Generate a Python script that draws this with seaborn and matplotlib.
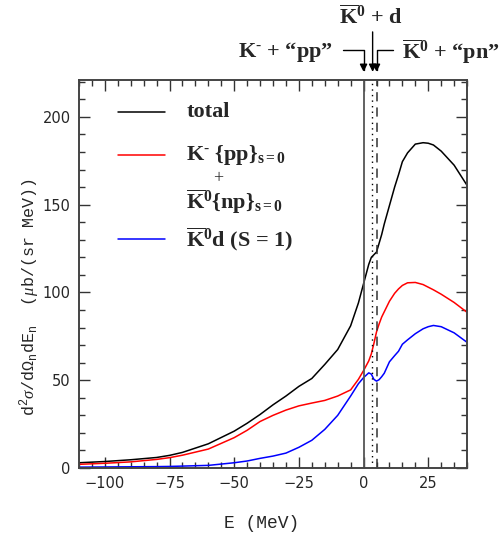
import matplotlib
matplotlib.use("Agg")
import matplotlib.pyplot as plt
from matplotlib.ticker import MultipleLocator
import seaborn as sns
import pandas as pd

# energies (MeV) and spectra
energy = [-110, -100, -90, -80, -75, -70, -60, -50, -45, -40, -35, -30, -25, -20, -15, -10, -5, -2,
          0, 2, 3, 4, 5, 6, 7, 8, 10, 12, 13.5, 15, 17, 20, 23, 25, 27, 30, 35, 40]
total = [3.0, 3.7, 4.7, 6.0, 7.2, 8.9, 13.8, 21, 25.5, 30.5, 36, 41, 46.5, 51, 59, 67.5, 81, 94,
         105, 116, 120, 121.5, 123, 128, 133, 139, 149.5, 160, 167, 174.5, 179.5, 184.5, 185.3, 185, 184, 180.5, 172.5, 161]
s0 = [2.1, 2.7, 3.5, 4.9, 5.9, 7.3, 10.8, 17.3, 21.5, 26.5, 30, 33, 35.4, 37, 38.5, 41, 44.5, 50.5,
      55.5, 61, 65, 71, 77.5, 82, 86, 89, 95, 99.5, 102, 104, 105.5, 105.7, 104.5, 103, 101.5, 99, 94.3, 88.7]
s1 = [0.5, 0.6, 0.7, 0.8, 0.9, 1.1, 1.5, 3.0, 4.0, 5.5, 6.8, 8.5, 11.8, 15.8, 22, 30, 41, 48,
      51.5, 54.2, 53.5, 50.5, 49.5, 50.3, 52, 54, 60.5, 64, 66.5, 70.5, 73, 76.5, 79.3, 80.5, 81.2, 80.5, 77, 71.6]

thr_pp = 0.0      # K- + "pp"
thr_d = 3.1       # K0bar + d
thr_pn = 5.3      # K0bar + "pn"

df = pd.DataFrame({"E": energy, "total": total, "s0": s0, "s1": s1})

sns.set_style("ticks")
plt.rcParams["font.family"] = ["DejaVu Sans"]
plt.rcParams["mathtext.fontset"] = "custom"
plt.rcParams["mathtext.rm"] = "Liberation Mono"
plt.rcParams["mathtext.it"] = "Liberation Serif:italic"
plt.rcParams["mathtext.bf"] = "Liberation Serif:bold"

fig = plt.figure(figsize=(5.04, 5.4), dpi=100)
ax = fig.add_axes([0.1567, 0.1333, 0.77, 0.7185])

sns.lineplot(data=df, x="E", y="total", color="black", lw=1.1, ax=ax)
sns.lineplot(data=df, x="E", y="s0", color="#ff0000", lw=1.1, ax=ax)
sns.lineplot(data=df, x="E", y="s1", color="#0000ff", lw=1.1, ax=ax)

ax.axvline(thr_pp, color="#555555", lw=1.3)
ax.axvline(thr_d, color="black", lw=1, ls=(0, (1, 3)))
ax.axvline(thr_pn, color="#333333", lw=1.1, ls=(0, (6, 4)))

ax.set_xlim(-110, 40)
ax.set_ylim(0, 221)
ax.xaxis.set_major_locator(MultipleLocator(25))
ax.xaxis.set_minor_locator(MultipleLocator(5))
ax.yaxis.set_major_locator(MultipleLocator(50))
ax.yaxis.set_minor_locator(MultipleLocator(10))
ax.tick_params(which="both", direction="in", top=True, right=True, color="#333333")
ax.tick_params(which="major", length=8, width=1, labelsize=10.5, pad=6)
ax.tick_params(which="minor", length=4, width=1)
for sp in ax.spines.values():
    sp.set_linewidth(1.4)
    sp.set_color("#444444")

ax.set_xlabel("E (MeV)", family="Liberation Mono", fontsize=13)
ax.set_ylabel(r"$\mathrm{d^2}\sigma\mathrm{/d\Omega_n dE_n}$  ($\mu$b/(sr MeV))",
              family="Liberation Mono", fontsize=12)
ax.yaxis.set_label_coords(-0.095, 0.44)
ax.xaxis.set_label_coords(0.47, -0.12)

kminus = "K$^{\\mathbf{\u2010}}$"
kbar0 = r"$\overline{\mathbf{K}}^{\mathbf{0}}$"

# legend drawn by hand (three-line label)
serif = dict(family="Liberation Serif", fontweight="bold", fontsize=16,
             transform=ax.transAxes, va="center")
for yy, col in [(0.918, "black"), (0.807, "#ff0000"), (0.59, "#0000ff")]:
    ax.plot([0.1, 0.222], [yy, yy], color=col, lw=1.1, transform=ax.transAxes)
ax.text(0.276, 0.918, "total", **serif)
ax.text(0.276, 0.807, kminus + r" {pp}$_{\mathbf{s=0}}$", **serif)
ax.text(0.358, 0.747, "+", ha="center", family="Liberation Serif", fontsize=13,
        transform=ax.transAxes, va="center")
ax.text(0.276, 0.686, kbar0 + r"{np}$_{\mathbf{s=0}}$", **serif)
ax.text(0.276, 0.59, kbar0 + "d (S = 1)", **serif)

# threshold arrows on top
arr = dict(arrowstyle="-|>", color="black", lw=1, shrinkA=0, shrinkB=0, mutation_scale=11)
xy_mix = ("data", "axes fraction")
ax.annotate("", xy=(thr_pp, 1.021), xycoords=xy_mix, xytext=(-8, 1.077), textcoords=xy_mix,
            arrowprops=dict(connectionstyle="angle,angleA=0,angleB=90,rad=0", **arr),
            annotation_clip=False)
ax.annotate("", xy=(thr_pn - 0.3, 1.021), xycoords=xy_mix, xytext=(11.4, 1.077), textcoords=xy_mix,
            arrowprops=dict(connectionstyle="angle,angleA=0,angleB=90,rad=0", **arr),
            annotation_clip=False)
ax.annotate("", xy=(thr_d + 0.4, 1.021), xycoords=xy_mix, xytext=(thr_d + 0.4, 1.124), textcoords=xy_mix,
            arrowprops=arr, annotation_clip=False)
top = dict(family="Liberation Serif", fontweight="bold", fontsize=16, va="center",
           transform=ax.get_xaxis_transform(), clip_on=False)
ax.text(-11.7, 1.072, kminus + " + “pp”", ha="right", **top)
ax.text(14.8, 1.072, kbar0 + " + “pn”", ha="left", **top)
ax.text(2.9, 1.162, kbar0 + " + d", ha="center", **top)

fig.savefig("out.png", dpi=100)
